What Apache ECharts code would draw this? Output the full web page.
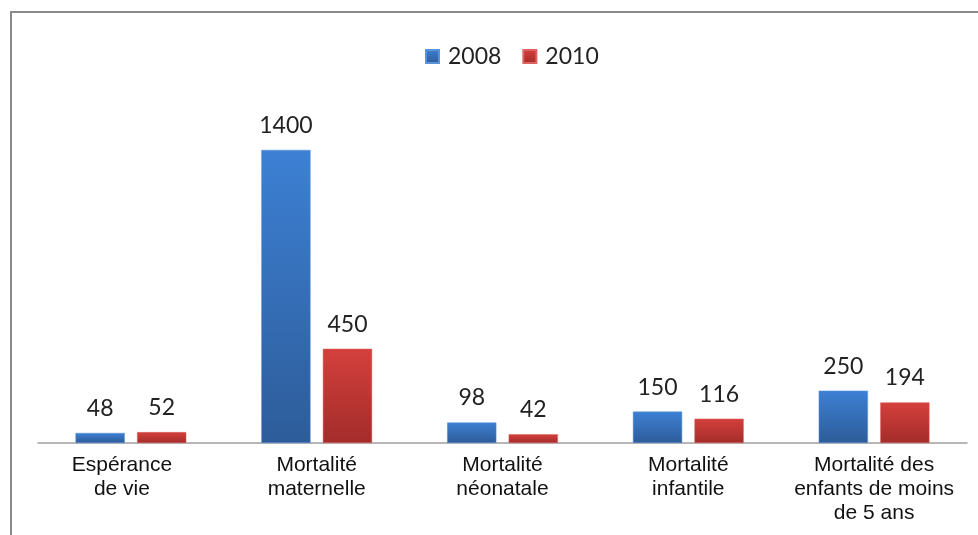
<!DOCTYPE html>
<html>
<head>
<meta charset="utf-8">
<script src="https://cdn.jsdelivr.net/npm/echarts@6/dist/echarts.min.js"></script>
<style>
  html, body { margin: 0; padding: 0; background: #fff; }
  #chart { width: 978px; height: 535px; }
</style>
</head>
<body>
<div id="chart"></div>
<script>
// Indicateurs de santé, 2008 vs 2010
const categories = [
  'Espérance\nde vie',
  'Mortalité\nmaternelle',
  'Mortalité\nnéonatale',
  'Mortalité\ninfantile',
  'Mortalité des\nenfants de moins\nde 5 ans'
];
const seriesNames = ['2008', '2010'];
const values2008 = [48, 1400, 98, 150, 250];
const values2010 = [52, 450, 42, 116, 194];

function grad(top, bottom) {
  return new echarts.graphic.LinearGradient(0, 0, 0, 1, [
    { offset: 0, color: top },
    { offset: 1, color: bottom }
  ]);
}

const valueLabel = {
  show: true,
  position: 'top',
  distance: 13,
  fontFamily: 'Lato',
  fontSize: 23,
  color: '#222'
};

// the first label sits slightly left of its bar pair
const categoryData = categories.map((c, i) => i === 0
  ? { value: c, textStyle: { padding: [0, 18, 0, 0] } }
  : c);

const chart = echarts.init(document.getElementById('chart'), null, { renderer: 'canvas' });
chart.setOption({
  animation: false,
  backgroundColor: '#fff',
  graphic: [{
    type: 'rect',
    shape: { x: 11, y: 12, width: 1000, height: 600 },
    style: { fill: 'none', stroke: '#8a8a8a', lineWidth: 2 },
    silent: true,
    z: 0
  }],
  legend: {
    left: 420,
    top: 40,
    icon: 'rect',
    itemWidth: 13,
    itemHeight: 13,
    itemGap: 21,
    textStyle: { fontFamily: 'Lato', fontSize: 23, color: '#222', padding: [0, 0, 0, 4] },
    data: seriesNames
  },
  grid: { left: 38, right: 11, top: 108, bottom: 92, containLabel: false },
  xAxis: {
    type: 'category',
    data: categoryData,
    axisLine: { lineStyle: { color: '#a0a0a0', width: 1.5 } },
    axisTick: { show: false },
    axisLabel: {
      interval: 0,
      margin: 10,
      fontFamily: 'Liberation Sans',
      fontSize: 21,
      lineHeight: 24,
      color: '#111'
    }
  },
  yAxis: {
    type: 'value',
    min: 0,
    max: 1600,
    show: false,
    splitLine: { show: false }
  },
  series: [
    {
      name: seriesNames[0],
      type: 'bar',
      data: values2008,
      barWidth: '26.5%',
      barGap: '25%',
      itemStyle: {
        color: grad('#3d80d4', '#2d5c99'),
        borderColor: '#5a93d8',
        borderWidth: 0.5
      },
      label: valueLabel
    },
    {
      name: seriesNames[1],
      type: 'bar',
      data: values2010,
      barWidth: '26.5%',
      barGap: '25%',
      itemStyle: {
        color: grad('#d4403c', '#a32c2a'),
        borderColor: '#dc6360',
        borderWidth: 0.5
      },
      label: valueLabel
    }
  ]
});
</script>
</body>
</html>
